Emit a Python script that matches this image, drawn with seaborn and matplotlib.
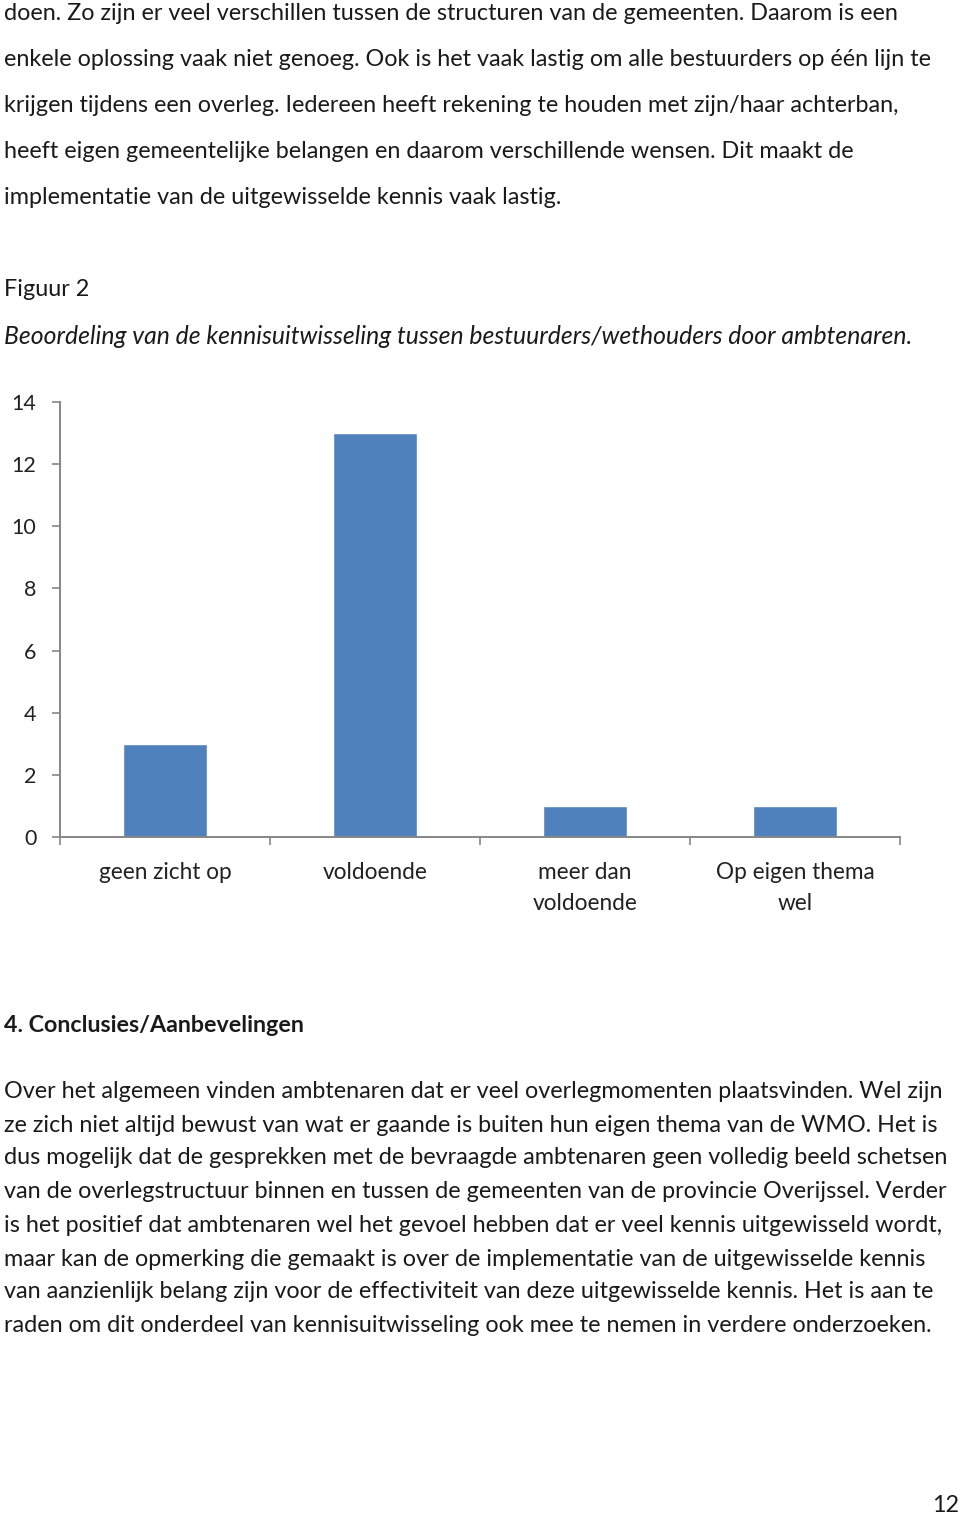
import matplotlib
matplotlib.use("Agg")
import matplotlib.pyplot as plt
import seaborn as sns

categories = ["geen zicht op", "voldoende", "meer dan\nvoldoende", "Op eigen thema\nwel"]
values = [3, 13, 1, 1]
yticks = [0, 2, 4, 6, 8, 10, 12, 14]

top_lines = [
    "doen. Zo zijn er veel verschillen tussen de structuren van de gemeenten. Daarom is een",
    "enkele oplossing vaak niet genoeg. Ook is het vaak lastig om alle bestuurders op één lijn te",
    "krijgen tijdens een overleg. Iedereen heeft rekening te houden met zijn/haar achterban,",
    "heeft eigen gemeentelijke belangen en daarom verschillende wensen. Dit maakt de",
    "implementatie van de uitgewisselde kennis vaak lastig.",
]
figure_label = "Figuur 2"
caption = "Beoordeling van de kennisuitwisseling tussen bestuurders/wethouders door ambtenaren."
heading = "4. Conclusies/Aanbevelingen"
para_lines = [
    "Over het algemeen vinden ambtenaren dat er veel overlegmomenten plaatsvinden. Wel zijn",
    "ze zich niet altijd bewust van wat er gaande is buiten hun eigen thema van de WMO. Het is",
    "dus mogelijk dat de gesprekken met de bevraagde ambtenaren geen volledig beeld schetsen",
    "van de overlegstructuur binnen en tussen de gemeenten van de provincie Overijssel. Verder",
    "is het positief dat ambtenaren wel het gevoel hebben dat er veel kennis uitgewisseld wordt,",
    "maar kan de opmerking die gemaakt is over de implementatie van de uitgewisselde kennis",
    "van aanzienlijk belang zijn voor de effectiviteit van deze uitgewisselde kennis. Het is aan te",
    "raden om dit onderdeel van kennisuitwisseling ook mee te nemen in verdere onderzoeken.",
]
page_number = "12"

sns.set_style("white")
plt.rcParams["font.family"] = ["Lato", "DejaVu Sans"]

W, H = 960, 1515
fig = plt.figure(figsize=(W / 100, H / 100), dpi=100)
fig.patch.set_facecolor("white")

def fy(y):
    return 1 - y / H

TEXT_COLOR = "#1a1a1a"
renderer = fig.canvas.get_renderer()

def fit_block(lines, ys, x0, ref_idx, target_right, base_fs=16, **kw):
    # compute font size so reference line spans to target_right
    t = fig.text(x0 / W, fy(ys[ref_idx]), lines[ref_idx], fontsize=base_fs, va="center", ha="left", **kw)
    w = t.get_window_extent(renderer).width
    t.remove()
    fs = base_fs * (target_right - x0) / w
    for s, y in zip(lines, ys):
        fig.text(x0 / W, fy(y), s, fontsize=fs, va="center", ha="left", color=TEXT_COLOR, **kw)
    return fs

fs_body = fit_block(top_lines, [13, 59, 105, 152, 198], 4, 1, 933)
fig.text(4 / W, fy(290), figure_label, fontsize=fs_body, va="center", ha="left", color=TEXT_COLOR)
fit_block([caption], [336], 4, 0, 913, style="italic")
fit_block([heading], [1025], 4, 0, 306, weight="bold")
fit_block(para_lines, [1091, 1125, 1158, 1192, 1225, 1259, 1292, 1325], 4, 2, 953)
fig.text(959 / W, fy(1505), page_number, fontsize=fs_body, va="center", ha="right", color=TEXT_COLOR)

# chart
left, right, bottom, top = 60, 900, 837, 402
ax = fig.add_axes([left / W, 1 - bottom / H, (right - left) / W, (bottom - top) / H])
ax.set_facecolor("white")
sns.barplot(x=list(range(len(categories))), y=values, color="#4F81BD", width=0.4,
            saturation=1, ax=ax, native_scale=True)
ax.set_xlim(-0.5, len(categories) - 0.5)
ax.set_ylim(0, 14)
ax.set_yticks(yticks)
ax.set_yticklabels([str(v) for v in yticks], fontsize=15.5, color="#222222")
ax.set_xticks([i - 0.5 for i in range(len(categories) + 1)])
ax.set_xticklabels([""] * (len(categories) + 1))
ax.set_xticks(list(range(len(categories))), minor=True)
ax.set_xticklabels(categories, minor=True, fontsize=16.3, color="#222222", linespacing=1.6)
ax.tick_params(axis="x", which="major", length=6, width=1.2, color="#868686", direction="out", bottom=True)
ax.tick_params(axis="x", which="minor", length=0, pad=18, bottom=True)
ax.tick_params(axis="y", length=6, width=1.2, color="#868686", pad=11, direction="out", left=True)
for s in ["top", "right"]:
    ax.spines[s].set_visible(False)
for s in ["left", "bottom"]:
    ax.spines[s].set_color("#868686")
    ax.spines[s].set_linewidth(1.4)
ax.set_xlabel("")
ax.set_ylabel("")
ax.grid(False)

fig.savefig("out.png", dpi=100, facecolor="white")
